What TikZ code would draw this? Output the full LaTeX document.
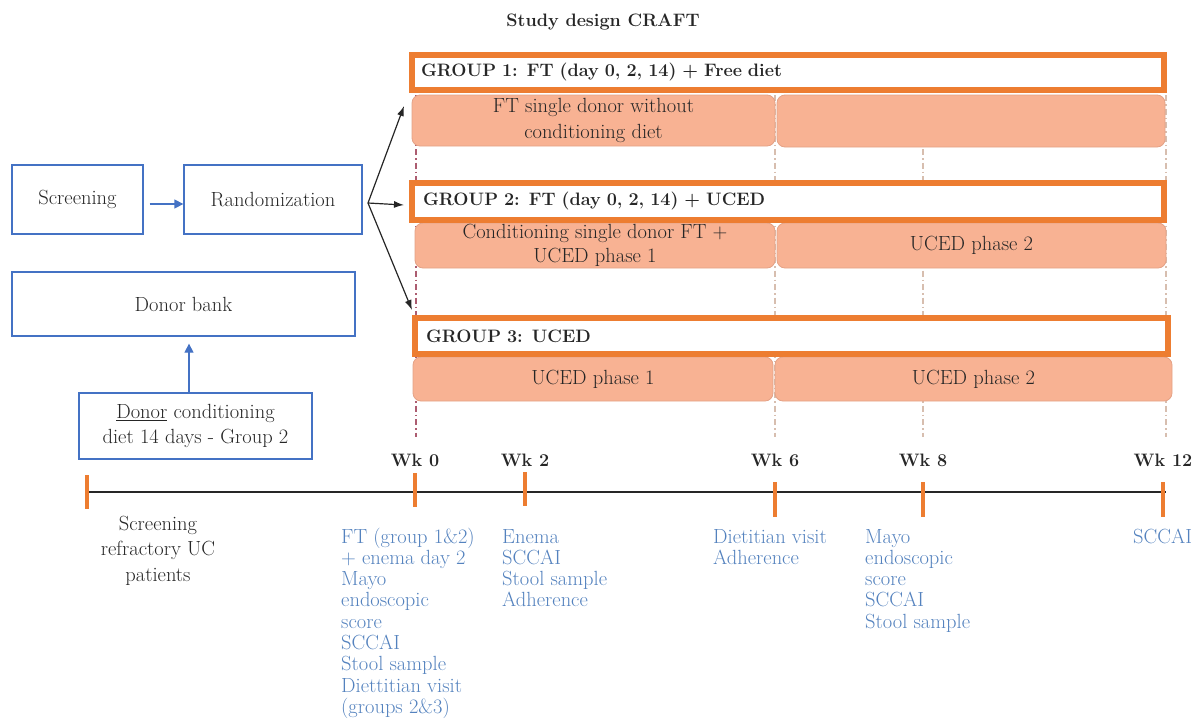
\documentclass[tikz,border=0pt]{standalone}
\usepackage{fontspec}
\usetikzlibrary{arrows.meta}

\definecolor{craftblue}{RGB}{68,114,196}
\definecolor{craftnote}{RGB}{84,130,190}
\definecolor{craftorange}{RGB}{237,125,49}
\definecolor{craftsalmon}{RGB}{248,178,147}
\definecolor{craftsalmonline}{RGB}{228,162,134}
\definecolor{craftdash}{RGB}{215,190,175}
\definecolor{craftdashred}{RGB}{172,92,112}
\definecolor{craftdark}{RGB}{38,38,38}

\newcommand{\craftRm}{\fontsize{20.5}{21.3}\selectfont}
\newcommand{\craftBf}{\fontsize{18}{20}\selectfont\bfseries}

\tikzset{
  bluebox/.style={draw=craftblue, line width=1.3pt, inner sep=0pt, font=\craftRm, text=craftdark, align=center},
  groupbox/.style={draw=craftorange, line width=6pt, fill=white, font=\craftBf, text=craftdark, align=left, inner ysep=0pt},
  phasebar/.style={draw=craftsalmonline, line width=0.8pt, fill=craftsalmon, rounded corners=8pt, font=\craftRm, text=craftdark, align=center, inner sep=0pt},
  weekmark/.style={draw=craftorange, line width=4.5pt},
  weeklabel/.style={font=\craftBf, text=craftdark, inner sep=0pt, anchor=base},
  visitnote/.style={font=\craftRm, text=craftnote, align=left, anchor=base west, inner sep=0pt},
  bluearrow/.style={draw=craftblue, line width=1.3pt, -{Triangle[length=9pt,width=9pt]}},
  randarrow/.style={draw=craftdark, line width=1.2pt, -{Latex[length=10pt,width=7pt]}},
  guideline/.style={draw=craftdash, line width=1.2pt, dash pattern=on 6pt off 3pt on 1.5pt off 3pt},
}

\begin{document}
\begin{tikzpicture}[x=1pt,y=-1pt]
\useasboundingbox (0,0) rectangle (1201,718);

% title
\node[font=\craftBf, text=craftdark, inner sep=0pt, anchor=base] (title) at (603,26) {Study design CRAFT};

% left column
\node[bluebox, minimum width=131pt, minimum height=69pt] (screen) at (77.5,199.5) {Screening};
\node[bluebox, minimum width=178pt, minimum height=69pt] (rand) at (273,199.5) {Randomization};
\node[bluebox, minimum width=343pt, minimum height=64pt] (bank) at (183.5,304) {Donor bank};
\node[bluebox, minimum width=233pt, minimum height=66pt, font={\fontsize{20.5}{25}\selectfont}] (cond) at (195.5,426) {\underline{Donor} conditioning\\diet 14 days - Group 2};

\draw[bluearrow, shorten <=6pt] ([yshift=-4.5pt]screen.east) -- ([yshift=-4.5pt]rand.west);
\draw[bluearrow, shorten >=7pt] ([xshift=-6.5pt]cond.north) -- ([xshift=-6.5pt]cond.north |- bank.south);

% randomization fork
\coordinate (fork) at (368,203);
\coordinate (tipone) at (404,106);
\coordinate (tiptwo) at (404,205);
\coordinate (tipthree) at (412,310);
\draw[randarrow] (fork) -- (tipone);
\draw[randarrow] (fork) -- (tiptwo);
\draw[randarrow] (fork) -- (tipthree);

% week guides
\draw[guideline, draw=craftdashred] (416,95) -- (416,437);
\foreach \gx in {775,923,1166}
  \draw[guideline] (\gx,95) -- (\gx,437);

% group 1
\node[phasebar, minimum width=363pt, minimum height=51pt, font={\fontsize{20.5}{26}\selectfont}] (gonea) at (593.5,120.5) {FT single donor without\\conditioning diet};
\node[phasebar, minimum width=388pt, minimum height=52pt] (goneb) at (971,121) {};
\node[groupbox, text width=734pt, inner xsep=9pt, minimum height=35pt] (grpone) at (788,72.5) {GROUP 1: FT (day 0, 2, 14) + Free diet};

% group 2
\node[phasebar, minimum width=360pt, minimum height=45pt, font={\fontsize{20.5}{24}\selectfont}] (gtwoa) at (595,245.5) {Conditioning single donor FT +\\UCED phase 1};
\node[phasebar, minimum width=389pt, minimum height=45pt] (gtwob) at (971.5,245.5) {UCED phase 2};
\node[groupbox, text width=730pt, inner xsep=11pt, minimum height=37pt] (grptwo) at (788,201.5) {GROUP 2: FT (day 0, 2, 14) + UCED};

% group 3
\node[phasebar, minimum width=360pt, minimum height=44pt] (gthreea) at (593,379) {UCED phase 1};
\node[phasebar, minimum width=397pt, minimum height=44pt] (gthreeb) at (973.5,379) {UCED phase 2};
\node[groupbox, text width=731pt, inner xsep=11pt, minimum height=36pt] (grpthree) at (791.5,336) {GROUP 3: UCED};

% timeline
\coordinate (tlstart) at (87,492);
\coordinate (tlend) at (1166,492);
\draw[craftdark, line width=2.7pt] (tlstart) -- (tlend);
\foreach \tx/\ttop/\tbot in {87/475/509, 415/473/507, 525/472/506, 775/482/517, 923/482/517, 1163/482/517}
  \draw[weekmark] (\tx,\ttop) -- (\tx,\tbot);

\node[weeklabel] (wkzero) at (415,466) {Wk 0};
\node[weeklabel] (wktwo) at (525,466) {Wk 2};
\node[weeklabel] (wksix) at (775,466) {Wk 6};
\node[weeklabel] (wkeight) at (923,466) {Wk 8};
\node[weeklabel] (wktwelve) at (1163,466) {Wk 12};

% visit notes (base = last line)
\node[font={\fontsize{20.5}{25.5}\selectfont}, text=craftdark, align=center, anchor=base, inner sep=0pt] (scrnote) at (158,581) {Screening\\refractory UC\\patients};
\node[visitnote] (notezero) at (341,713.4) {FT (group 1\&2)\\+ enema day 2\\Mayo\\endoscopic\\score\\SCCAI\\Stool sample\\Diettitian visit\\(groups 2\&3)};
\node[visitnote] (notetwo) at (502,606.9) {Enema\\SCCAI\\Stool sample\\Adherence};
\node[visitnote] (notesix) at (713,564.3) {Dietitian visit\\Adherence};
\node[visitnote] (noteeight) at (865,628.2) {Mayo\\endoscopic\\score\\SCCAI\\Stool sample};
\node[visitnote] (notetwelve) at (1133,543) {SCCAI};
\end{tikzpicture}
\end{document}
